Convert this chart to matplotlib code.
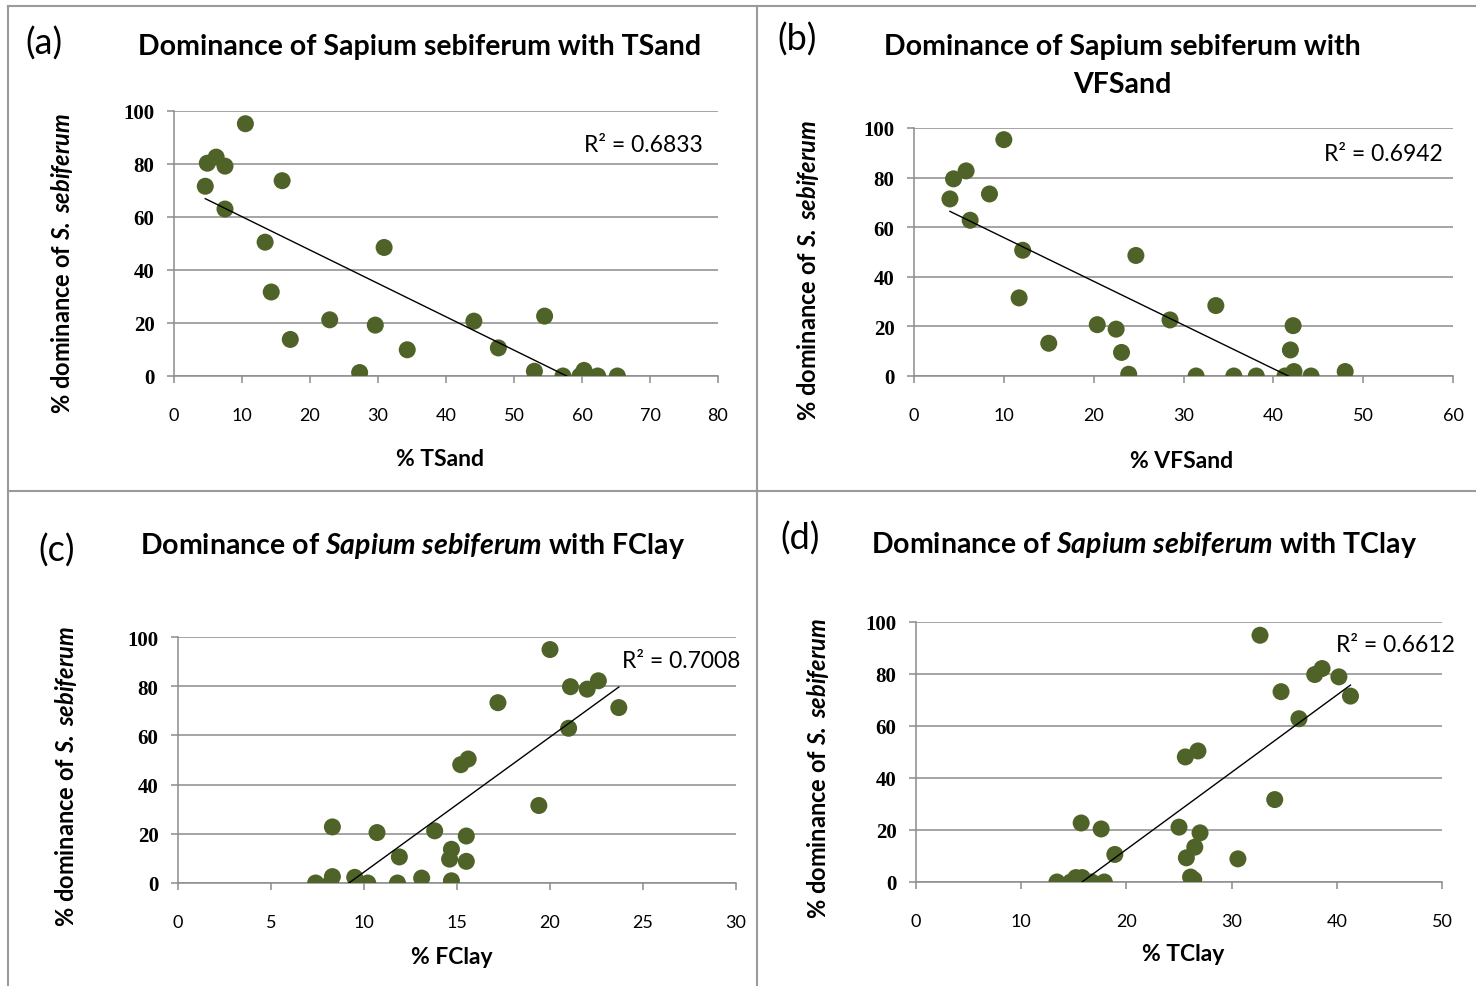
import numpy as np
import matplotlib
matplotlib.use("Agg")
import matplotlib.pyplot as plt
from matplotlib.lines import Line2D

plt.rcParams['font.family'] = ['Lato', 'DejaVu Sans']
plt.rcParams['mathtext.fontset'] = 'custom'
plt.rcParams['mathtext.rm'] = 'Lato'
plt.rcParams['mathtext.it'] = 'Lato:italic'
plt.rcParams['mathtext.bf'] = 'Lato:bold'
plt.rcParams['mathtext.bfit'] = 'Lato:italic:bold'

# (a) % TSand
tsand_x = [10.5, 4.9, 6.2, 7.5, 4.6, 7.5, 15.9, 13.4, 30.9, 14.3, 22.9, 29.6,
           17.1, 34.3, 27.3, 44.1, 54.5, 47.7, 53.0, 57.2, 59.7, 60.3, 62.3, 65.2]
tsand_y = [95.2, 80.3, 82.6, 79.2, 71.6, 63.0, 73.7, 50.5, 48.5, 31.7, 21.2, 19.2,
           13.8, 9.9, 1.3, 20.7, 22.6, 10.6, 1.8, 0.0, 0.0, 2.1, 0.0, 0.0]

# (b) % VFSand
vfsand_x = [10.0, 4.4, 5.8, 8.4, 4.0, 6.25, 12.1, 24.7, 11.7, 33.6, 20.4, 22.5, 28.5,
            15.0, 23.1, 23.9, 31.4, 35.6, 38.1, 41.3, 42.3, 42.2, 41.9, 44.2, 48.0]
vfsand_y = [95.3, 79.5, 82.7, 73.4, 71.4, 62.8, 50.7, 48.6, 31.5, 28.4, 20.7, 18.9, 22.6,
            13.2, 9.5, 0.7, 0.0, 0.0, 0.0, 0.0, 1.8, 20.3, 10.5, 0.0, 1.8]

# (c) % FClay
fclay_x = [20.0, 21.1, 22.0, 22.6, 17.2, 23.7, 21.0, 15.2, 15.6, 19.4, 8.3, 10.7, 13.8,
           15.5, 11.9, 14.7, 14.6, 15.5, 7.4, 8.2, 8.3, 9.5, 10.2, 11.8, 13.1, 14.7]
fclay_y = [94.9, 79.8, 78.8, 82.2, 73.3, 71.3, 62.9, 48.1, 50.4, 31.5, 22.8, 20.5, 21.2,
           19.1, 10.6, 13.7, 9.7, 8.8, 0.0, 0.0, 2.6, 2.3, 0.0, 0.0, 2.0, 0.9]

# (d) % TClay
tclay_x = [32.7, 37.9, 38.6, 40.2, 34.7, 41.3, 36.4, 25.6, 26.8, 34.1, 15.7, 17.6, 25.0,
           27.0, 18.9, 26.5, 25.7, 30.6, 13.4, 14.7, 15.2, 15.8, 16.7, 17.9, 26.1, 26.4]
tclay_y = [94.9, 79.8, 82.1, 78.9, 73.2, 71.5, 62.8, 48.1, 50.4, 31.7, 22.7, 20.4, 21.1,
           18.9, 10.6, 13.4, 9.3, 8.9, 0.0, 0.0, 1.7, 1.7, 0.0, 0.0, 1.9, 0.9]

r2_texts = ['0.6833', '0.6942', '0.7008', '0.6612']

W, H = 1476, 987
fig = plt.figure(figsize=(W / 100, H / 100), dpi=100)

def px(x, y):
    return x / W, 1 - y / H

def make_ax(box, x, y, xmax, xstep, r2, r2pos, r2ha):
    l, t, r, b = box
    ax = fig.add_axes([l / W, 1 - b / H, (r - l) / W, (b - t) / H])
    ax.set_xlim(0, xmax)
    ax.set_ylim(0, 100)
    ax.set_xticks(np.arange(0, xmax + 0.1, xstep))
    ax.set_yticks(np.arange(0, 101, 20))
    ax.yaxis.grid(True, color='#8c8c8c', lw=1.1)
    ax.set_axisbelow(True)
    for s in ['top', 'right']:
        ax.spines[s].set_visible(False)
    for s in ['left', 'bottom']:
        ax.spines[s].set_color('#8c8c8c')
        ax.spines[s].set_linewidth(1.1)
    ax.tick_params(axis='both', color='#8c8c8c', length=5, width=1.1)
    ax.tick_params(axis='x', labelsize=13, pad=17)
    ax.tick_params(axis='y', pad=9)
    for lab in ax.get_yticklabels():
        lab.set_fontfamily('Liberation Serif')
        lab.set_fontweight('bold')
        lab.set_fontsize(15)
    x = np.array(x)
    y = np.array(y)
    ax.scatter(x, y, s=150, color='#4f6228', edgecolors='none', zorder=3)
    # linear trendline over the data range (clipped at 0 by the axes)
    k, c = np.polyfit(x, y, 1)
    xs = np.array([x.min(), x.max()])
    ax.plot(xs, k * xs + c, color='black', lw=1.0, zorder=4)
    fig.text(*px(*r2pos), 'R² = ' + r2, fontsize=16.5, ha=r2ha, va='center')
    return ax

make_ax((174, 112, 718, 377), tsand_x, tsand_y, 80, 10, r2_texts[0], (703, 145), 'right')
make_ax((914, 129, 1453, 377), vfsand_x, vfsand_y, 60, 10, r2_texts[1], (1443, 155), 'right')
make_ax((178, 638, 736, 884), fclay_x, fclay_y, 30, 5, r2_texts[2], (622, 661), 'left')
make_ax((916, 623, 1442, 883), tclay_x, tclay_y, 50, 10, r2_texts[3], (1336, 646), 'left')

# panel labels
for lab, pos in [('(a)', (44, 44)), ('(b)', (797, 40)), ('(c)', (57, 551)), ('(d)', (800, 539))]:
    fig.text(*px(*pos), lab, fontsize=26, ha='center', va='center')

# titles
tkw = dict(fontsize=20.5, fontweight='bold', ha='center', va='center')
fig.text(*px(420, 47), 'Dominance of Sapium sebiferum with TSand', **tkw)
fig.text(*px(1122, 47), 'Dominance of Sapium sebiferum with', **tkw)
fig.text(*px(1122, 85), 'VFSand', **tkw)
fig.text(*px(413, 546), r'Dominance of $\mathbfit{Sapium}$ $\mathbfit{sebiferum}$ with FClay', **tkw)
fig.text(*px(1144, 545), r'Dominance of $\mathbfit{Sapium}$ $\mathbfit{sebiferum}$ with TClay', **tkw)

# axis labels
xkw = dict(fontsize=16.5, fontweight='bold', ha='center', va='center')
fig.text(*px(440, 460), '% TSand', **xkw)
fig.text(*px(1182, 461), '% VFSand', **xkw)
fig.text(*px(452, 958), '% FClay', **xkw)
fig.text(*px(1183, 955), '% TClay', **xkw)

ylab = r'% dominance of $\mathbfit{S.}$ $\mathbfit{sebiferum}$'
ykw = dict(fontsize=17, fontweight='bold', ha='center', va='center', rotation=90)
fig.text(*px(62, 263), ylab, **ykw)
fig.text(*px(808, 270), ylab, **ykw)
fig.text(*px(66, 776), ylab, **ykw)
fig.text(*px(818, 768), ylab, **ykw)

# cell borders
bc = '#9a9a9a'
fig.add_artist(Line2D([8 / W, 1], [1 - 7 / H, 1 - 7 / H], transform=fig.transFigure, color=bc, lw=1.5))
fig.add_artist(Line2D([8 / W, 8 / W], [1 - 7 / H, 0], transform=fig.transFigure, color=bc, lw=1.5))
fig.add_artist(Line2D([757 / W, 757 / W], [1 - 7 / H, 0], transform=fig.transFigure, color=bc, lw=1.5))
fig.add_artist(Line2D([8 / W, 1], [1 - 492 / H, 1 - 492 / H], transform=fig.transFigure, color=bc, lw=1.5))

fig.savefig('out.png', dpi=100)
